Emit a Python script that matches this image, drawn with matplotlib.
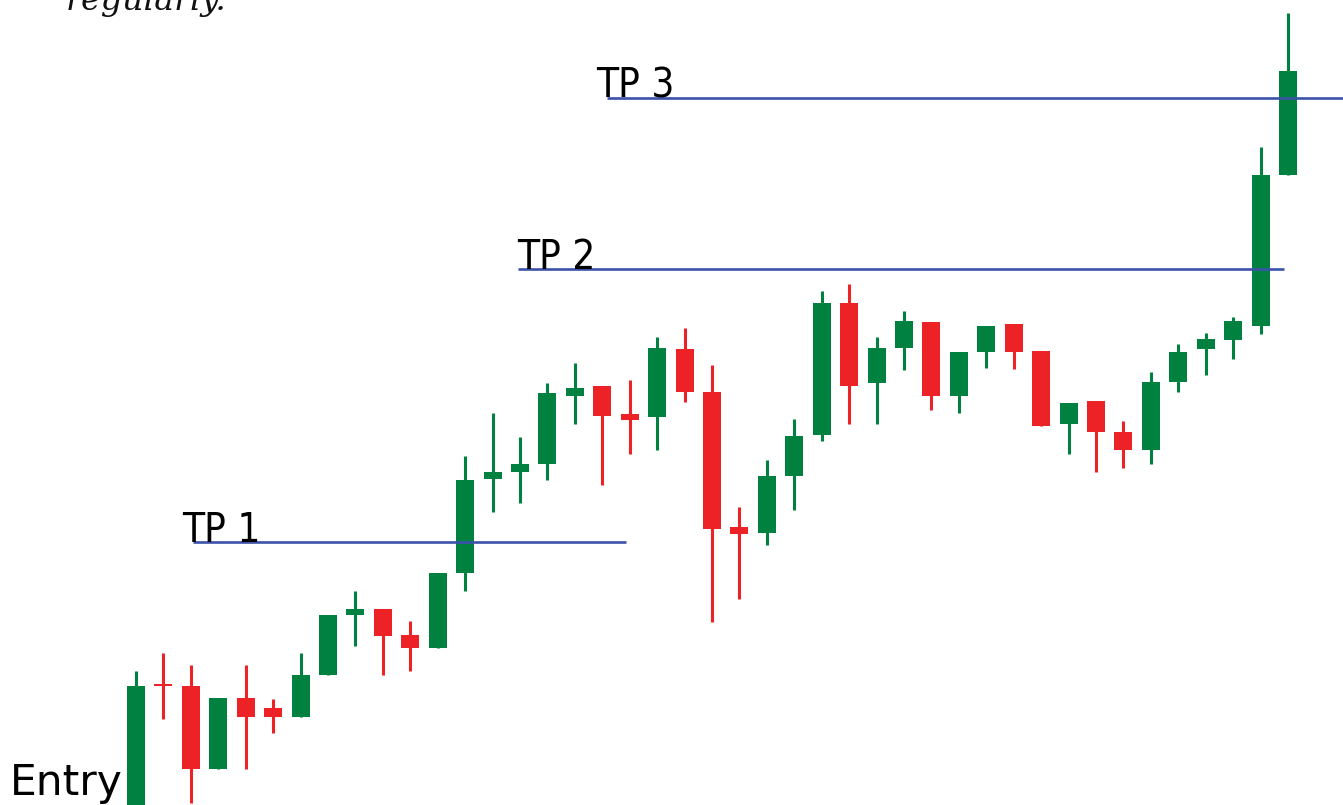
import matplotlib
matplotlib.use("Agg")
import matplotlib.pyplot as plt
import numpy as np

# OHLC values (price units)
opens  = [-15, 120, 119,  36, 107,  97,  88, 130, 190, 196, 170, 157, 232, 326, 333, 341, 409, 419, 391, 388,
          456, 413, 278, 272, 329, 370, 502, 422, 457, 483, 409, 453, 481, 454, 381, 404, 373, 355, 423, 456,
          465, 479, 630]
highs  = [134, 152, 140, 107, 140, 106, 152, 190, 214, 196, 184, 232, 349, 392, 368, 422, 442, 419, 425, 468,
          477, 440, 298, 345, 386, 514, 521, 468, 494, 483, 453, 479, 481, 454, 402, 404, 384, 433, 461, 472,
          488, 658, 792]
lows   = [-25,  86,   2,  36,  36,  72,  88, 130, 159, 130, 134, 157, 214, 293, 302, 325, 381, 320, 351, 355,
          403, 183, 206, 260, 295, 364, 381, 381, 435, 395, 392, 437, 436, 379, 351, 333, 337, 341, 413, 430,
          446, 471, 630]
closes = [119, 119,  36, 107,  88,  88, 130, 190, 196, 169, 157, 232, 325, 333, 341, 412, 417, 389, 385, 457,
          413, 276, 271, 329, 369, 502, 419, 457, 484, 409, 453, 479, 453, 379, 402, 373, 355, 423, 453, 466,
          484, 630, 734]

tp_labels = ["TP 1", "TP 2", "TP 3"]
tp_levels = [263, 536, 707]

GREEN = "#00813F"
RED = "#EC2227"
BLUE = "#3B52A8"

W, H = 1343, 805
fig = plt.figure(figsize=(W / 100, H / 100), dpi=100)
ax = fig.add_axes([0, 0, 1, 1])
ax.set_axis_off()

n = len(opens)
x = np.arange(n)
step_px = (1288 - 136) / (n - 1)
ax.set_xlim(-136 / step_px, (n - 1) + (W - 1288) / step_px)
ax.set_ylim(0, H)

body_w = 18 / step_px
for i in range(n):
    o, h, l, c = opens[i], highs[i], lows[i], closes[i]
    col = GREEN if c > o else RED
    ax.vlines(x[i], l, h, color=col, linewidth=2.2, zorder=2)
    bottom = min(o, c)
    height = max(abs(c - o), 2)
    ax.bar(x[i], height, width=body_w, bottom=bottom, color=col, zorder=3, linewidth=0)

# TP lines (pixel extents converted into index units)
def px2x(px):
    return (px - 136) / step_px

tp_x = [(193, 626), (518, 1284), (607, 1343)]
tp_text_x = [182, 517, 596]
for lab, lvl, (x0, x1), tx in zip(tp_labels, tp_levels, tp_x, tp_text_x):
    ax.hlines(lvl, px2x(x0), px2x(x1), color=BLUE, linewidth=1.9, zorder=4)
    fig.text(tx / W, lvl / H, lab, fontsize=29, family="DejaVu Sans", stretch="condensed",
             ha="left", va="baseline", color="black", zorder=5)

fig.text(10 / W, 1 - 795 / H, "Entry", fontsize=30.5, family="DejaVu Sans",
         ha="left", va="baseline", color="black")

fig.text(66 / W, 1 - 10 / H, "regularly.", fontsize=24, family="DejaVu Serif", style="italic",
         ha="left", va="baseline", color="#111111")

fig.savefig("out.png", dpi=100)
